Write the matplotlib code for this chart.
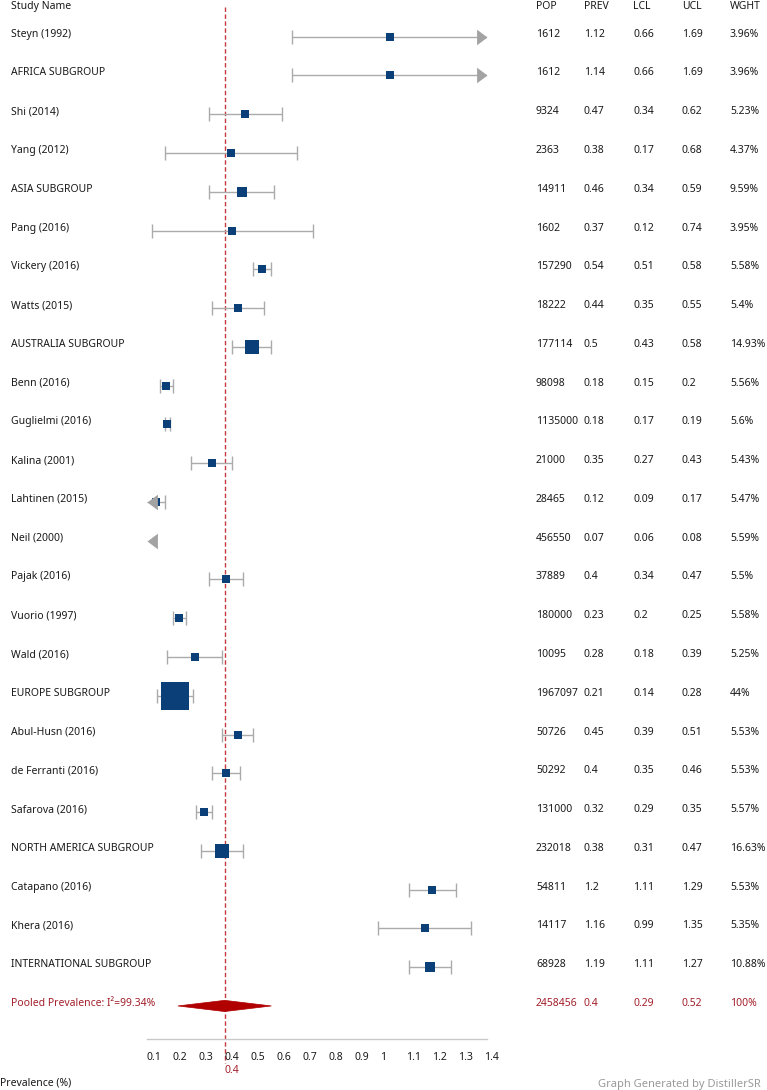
import matplotlib
matplotlib.use("Agg")
import matplotlib.pyplot as plt
from matplotlib import transforms
from matplotlib.patches import Polygon

plt.rcParams['font.family'] = ['Noto Sans', 'DejaVu Sans']

# ---------------- data ----------------
names = ["Steyn (1992)", "AFRICA SUBGROUP", "Shi (2014)", "Yang (2012)", "ASIA SUBGROUP",
         "Pang (2016)", "Vickery (2016)", "Watts (2015)", "AUSTRALIA SUBGROUP", "Benn (2016)",
         "Guglielmi (2016)", "Kalina (2001)", "Lahtinen (2015)", "Neil (2000)", "Pajak (2016)",
         "Vuorio (1997)", "Wald (2016)", "EUROPE SUBGROUP", "Abul-Husn (2016)",
         "de Ferranti (2016)", "Safarova (2016)", "NORTH AMERICA SUBGROUP", "Catapano (2016)",
         "Khera (2016)", "INTERNATIONAL SUBGROUP"]
pop = [1612, 1612, 9324, 2363, 14911, 1602, 157290, 18222, 177114, 98098, 1135000, 21000,
       28465, 456550, 37889, 180000, 10095, 1967097, 50726, 50292, 131000, 232018, 54811,
       14117, 68928]
prev = [1.12, 1.14, 0.47, 0.38, 0.46, 0.37, 0.54, 0.44, 0.5, 0.18, 0.18, 0.35, 0.12, 0.07,
        0.4, 0.23, 0.28, 0.21, 0.45, 0.4, 0.32, 0.38, 1.2, 1.16, 1.19]
lcl = [0.66, 0.66, 0.34, 0.17, 0.34, 0.12, 0.51, 0.35, 0.43, 0.15, 0.17, 0.27, 0.09, 0.06,
       0.34, 0.2, 0.18, 0.14, 0.39, 0.35, 0.29, 0.31, 1.11, 0.99, 1.11]
ucl = [1.69, 1.69, 0.62, 0.68, 0.59, 0.74, 0.58, 0.55, 0.58, 0.2, 0.19, 0.43, 0.17, 0.08,
       0.47, 0.25, 0.39, 0.28, 0.51, 0.46, 0.35, 0.47, 1.29, 1.35, 1.27]
wght = ["3.96%", "3.96%", "5.23%", "4.37%", "9.59%", "3.95%", "5.58%", "5.4%", "14.93%",
        "5.56%", "5.6%", "5.43%", "5.47%", "5.59%", "5.5%", "5.58%", "5.25%", "44%", "5.53%",
        "5.53%", "5.57%", "16.63%", "5.53%", "5.35%", "10.88%"]

pooled_label = "Pooled Prevalence: I\u00b2=99.34%"
pooled_pop = 2458456
pooled_prev = 0.4
pooled_lcl = 0.29
pooled_ucl = 0.52
pooled_wght = "100%"
pooled_diamond = [0.22, 0.4, 0.58]   # drawn extent of the diamond

ref_value = 0.4
tick_values = [0.1, 0.2, 0.3, 0.4, 0.5, 0.6, 0.7, 0.8, 0.9, 1.0, 1.1, 1.2, 1.3, 1.4]
tick_labels = ["0.1", "0.2", "0.3", "0.4", "0.5", "0.6", "0.7", "0.8", "0.9", "1",
               "1.1", "1.2", "1.3", "1.4"]
col_headers = ["POP", "PREV", "LCL", "UCL", "WGHT"]

# ---------------- layout ----------------
W, H = 767, 1090
XMIN, XMAX = 0.1, 1.41
AX_L, AX_R = 146.7, 487.0
AX_BOTTOM = 1039.0
ROW0, STEP = 36.7, 38.77
COL_X = [536, 584, 633, 682, 730]
NAME_X = 11

BLUE = "#0b3f78"
CI = "#ababab"
ARROW = "#a3a3a3"
RED_LINE = "#c43a3f"
RED_TXT = "#a3202b"
DIAMOND = "#b00000"
TXT = "#1a1a1a"
FS = 7.5

fig = plt.figure(figsize=(W / 100, H / 100), dpi=100)
ax = fig.add_axes([AX_L / W, (H - AX_BOTTOM) / H, (AX_R - AX_L) / W, AX_BOTTOM / H])
ax.set_xlim(XMIN, XMAX)
ax.set_ylim((AX_BOTTOM - ROW0) / STEP, -ROW0 / STEP)
ax.patch.set_alpha(0)
for s in ["top", "left", "right"]:
    ax.spines[s].set_visible(False)
ax.spines["bottom"].set_color("#c8c8c8")
ax.spines["bottom"].set_linewidth(1.0)
ax.set_yticks([])
ax.set_xticks(tick_values)
ax.set_xticklabels(tick_labels, ha="left")
ax.tick_params(axis="x", length=0, pad=9.5, labelsize=FS, labelcolor=TXT)

def px_to_row(py):
    return (py - ROW0) / STEP

# text transforms: x in figure pixels, y in rows
fig_x_row = transforms.blended_transform_factory(fig.transFigure, ax.transData)
data_x_figy = transforms.blended_transform_factory(ax.transData, fig.transFigure)

def row_text(xpx, row, s, color=TXT, weight="normal"):
    fig.text(xpx / W, row, s, transform=fig_x_row, fontsize=FS, color=color,
             fontweight=weight, ha="left", va="baseline")

# arrow markers (tip at origin)
right_arrow = [(0, 0), (-1, 0.75), (-1, -0.75), (0, 0)]
left_arrow = [(0, 0), (1, 0.75), (1, -0.75), (0, 0)]
ARROW_MS = 15.0
CAP_MS = 9.4

def weight_num(w):
    return float(w.strip("%"))

n = len(names)
for i in range(n):
    l, u = lcl[i], ucl[i]
    lo, hi = max(l, XMIN), min(u, XMAX)
    if hi >= lo:
        ax.plot([lo, hi], [i, i], color=CI, lw=1.0, solid_capstyle="butt", zorder=2)
        if l >= XMIN:
            ax.plot([l], [i], marker="|", ms=CAP_MS, mew=1.0, color=CI, zorder=2)
        if u <= XMAX:
            ax.plot([u], [i], marker="|", ms=CAP_MS, mew=1.0, color=CI, zorder=2)
        side_px = 5 + 0.545 * weight_num(wght[i])
        ax.plot([(lo + hi) / 2], [i], marker="s", ms=side_px * 0.72, mew=0,
                color=BLUE, zorder=3)
    if l < XMIN:
        ax.plot([XMIN], [i], marker=left_arrow, ms=ARROW_MS, mew=0, color=ARROW,
                zorder=3, clip_on=False)
    if u > XMAX:
        ax.plot([XMAX], [i], marker=right_arrow, ms=ARROW_MS, mew=0, color=ARROW,
                zorder=3, clip_on=False)

    row_text(NAME_X, i, names[i])
    vals = [str(pop[i]), f"{prev[i]:g}", f"{l:g}", f"{u:g}", wght[i]]
    for x, v in zip(COL_X, vals):
        row_text(x, i, v)

# pooled row
pr = n
dl, dc, dh = pooled_diamond
hh = 5.6 / STEP
ax.add_patch(Polygon([(dl, pr), (dc, pr - hh), (dh, pr), (dc, pr + hh)],
                     closed=True, facecolor=DIAMOND, edgecolor=DIAMOND, lw=0.5, zorder=4))
row_text(NAME_X, pr, pooled_label, color=RED_TXT)
pvals = [str(pooled_pop), f"{pooled_prev:g}", f"{pooled_lcl:g}", f"{pooled_ucl:g}", pooled_wght]
for x, v in zip(COL_X, pvals):
    row_text(x, pr, v, color=RED_TXT)

# reference dashed line
ax.plot([ref_value, ref_value], [px_to_row(7), px_to_row(1063)], color=RED_LINE, lw=1.0,
        ls=(0, (3.2, 1.8)), zorder=1.5, clip_on=False)

# headers
hdr_row = px_to_row(8.8)
row_text(NAME_X, hdr_row, "Study Name", weight="bold")
for x, h in zip(COL_X, col_headers):
    row_text(x, hdr_row, h, weight="bold")

# red reference value label
fig.text(ref_value, 1 - 1072.7 / H, f"{ref_value:g}", transform=data_x_figy,
         fontsize=FS, color=RED_TXT, ha="left", va="baseline")

fig.text(0 / W, 1 - 1085.7 / H, "Prevalence (%)", fontsize=FS, color=TXT,
         ha="left", va="baseline")
fig.text(598 / W, 1 - 1087 / H, "Graph Generated by DistillerSR", fontsize=8,
         color="#9a9a9a", ha="left", va="baseline")

fig.savefig("out.png", dpi=100, facecolor="white")
